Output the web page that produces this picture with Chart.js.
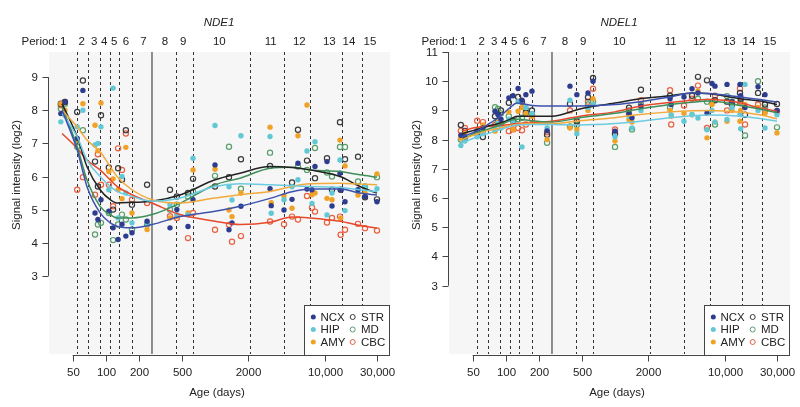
<!DOCTYPE html>
<html>
<head>
<meta charset="utf-8">
<script src="https://cdn.jsdelivr.net/npm/chart.js@4.4.1/dist/chart.umd.min.js"></script>
<style>
  html, body { margin: 0; padding: 0; background: #fff; }
  #wrap { width: 800px; height: 407px; display: flex; }
  .panel { width: 400px; height: 407px; }
</style>
</head>
<body>
<div id="wrap">
  <div class="panel"><canvas id="nde1" width="400" height="407"></canvas></div>
  <div class="panel"><canvas id="ndel1" width="400" height="407"></canvas></div>
</div>
<script>
'use strict';

// ─── Data ─────────────────────────────────────────────────────────────────────
// sample ages (post-conception days), shared by every region
const sampleAges = [39, 42.5, 55, 62, 80, 85, 90.7, 107, 117, 130, 141, 153, 174, 239,
  387, 447, 565, 628, 997, 1338, 1425, 1720, 3170, 3250, 4253, 5035, 5706, 6897, 7661,
  8161, 10504, 11666, 13800, 14000, 15340, 20166, 23350, 30050];

// NDE1 — signal per region, one value per sample (null = no sample)
const nde1NCX = [7.9, 8.25, 7.15, 8.6, 4.9, 4.7, 5.3, 4.95, 4.45, 4.1, 4.56, 4.2, 4.3, 4.65,
  4.45, 5.0, 4.49, 5.3, 6.35, 4.39, 4.6, 5.1, 5.63, 5.12, 4.99, 5.31, 6.4, 5.62, 5.6,
  6.3, 6.45, 5.11, 6.1, 5.6, 5.24, 5.6, 5.4, 5.24];
const nde1HIP = [7.65, 7.85, 7.5, 8.0, 6.95, 7.0, 7.5, 5.6, 8.67, 4.75, 6.0, 5.5, 4.6, 4.6,
  5.15, 4.85, 4.84, 6.55, 7.54, 5.69, 5.29, 7.23, 7.21, 4.89, 5.3, 5.69, 5.9, 6.77, 5.19,
  7.05, 4.84, 5.5, 6.5, null, 4.97, 5.6, 5.7, 5.63];
const nde1AMY = [8.2, 8.0, 7.1, 8.2, 7.55, 6.78, 8.22, 6.15, 5.93, 5.6, 5.33, 6.88, 4.9, 4.4,
  4.75, 4.8, 4.9, 6.2, 6.22, 4.99, 4.79, 5.5, 7.49, 5.21, 5.41, 5.04, 7.23, 8.16, 5.45,
  5.5, 5.34, 5.3, 7.1, 4.74, 6.32, 5.44, 5.5, 6.08];
const nde1STR = [8.2, 8.25, 7.95, 8.9, 6.45, 5.7, 7.85, 6.27, 5.0, 6.25, 5.9, 7.4, 5.15, 5.75,
  5.6, 5.4, 5.5, 5.93, 5.7, 5.98, null, 6.52, 6.32, null, null, 5.82, 7.41, 6.48, null,
  5.95, 6.55, 5.6, 7.64, 5.6, 6.52, 6.6, 5.37, 5.31];
const nde1MD = [8.05, 8.2, 6.9, 7.4, 4.25, 4.55, 4.6, 4.9, 4.08, 4.55, 4.85, 4.7, 4.4, 4.55,
  5.0, 5.15, 5.4, 5.55, 6.02, 6.9, null, 5.63, 6.72, null, null, null, 6.3, 6.2, null,
  6.86, 6.12, 6.0, 6.89, null, 6.89, 5.85, 5.7, 5.98];
const nde1CBC = [8.15, 8.25, 5.6, 5.98, 5.45, 6.67, 5.75, 5.75, 5.1, 6.85, 6.2, 7.3, 5.3, 5.2,
  4.8, 4.75, 4.14, 4.9, 4.39, 4.54, 4.03, 4.2, 4.64, null, 4.56, 4.79, 4.7, 5.41, 5.06,
  4.94, 4.61, 4.75, 4.79, 4.24, 4.39, 4.57, 4.44, 4.37];

// NDEL1
const ndel1NCX = [8.15, 8.1, 8.3, 8.4, 8.97, 8.86, 8.7, 9.43, 9.5, 9.75, 9.35, 9.54, 9.66, 8.3,
  9.83, 9.54, 9.6, 10.0, 8.29, 8.89, 8.75, 9.15, 9.4, 9.2, 9.46, 9.74, 9.6, 8.91, 9.92,
  9.83, 9.89, 9.3, 9.89, 9.5, 9.1, 9.81, 9.54, 9.0];
const ndel1HIP = [7.8, 7.95, 8.1, 8.2, 8.35, 8.55, 8.4, 8.7, 8.6, 9.3, 7.75, 9.1, 8.9, 8.4,
  9.35, 8.2, 9.1, 9.2, 8.1, 8.8, 8.4, 9.0, 9.2, 8.85, 8.63, 8.86, 8.74, 8.34, 9.0,
  8.6, 8.69, 9.1, 8.86, 8.37, 9.89, 9.0, 8.4, 8.85];
const ndel1AMY = [8.05, 8.2, 8.35, 8.5, 8.29, 8.6, 8.5, 8.95, 8.35, 8.97, 9.1, 8.9, 8.8, 8.0,
  8.4, 8.34, 9.0, 9.4, 7.95, 8.69, 8.6, 9.1, 9.0, 8.8, 8.9, 8.85, 9.66, 8.06, 9.2,
  8.6, 8.63, 9.0, 8.63, 9.0, 9.2, 9.1, 8.9, 8.23];
const ndel1STR = [8.5, 8.3, 8.25, 8.09, 8.8, 8.63, 9.0, 9.26, 8.65, 9.46, 9.3, 8.92, 9.0, 8.17,
  9.22, 8.63, 9.45, 10.11, 8.2, 9.09, null, 9.71, 9.5, null, null, 9.5, 10.15, 10.03, null,
  9.35, 9.3, 9.2, 9.6, 9.4, 8.85, 9.6, 9.2, 9.22];
const ndel1MD = [8.0, 8.05, 8.2, 8.3, 9.11, 9.05, 8.9, 8.8, 8.63, 8.7, 8.75, 9.05, 8.85, 7.89,
  8.45, 8.5, 9.2, 9.3, 7.75, 9.0, 8.35, 9.2, 9.1, null, null, null, 9.4, 9.3, null,
  8.52, 9.49, 9.3, 9.25, null, 8.14, 10.0, 9.1, 8.42];
const ndel1CBC = [8.3, 8.4, 8.65, 8.6, 8.5, 8.45, 8.55, 8.29, 8.35, 8.4, 8.32, 8.52, 8.7, 8.25,
  9.0, 8.6, 9.3, 9.74, 8.35, 8.9, null, 9.35, 9.69, 8.52, 9.17, 9.4, 9.85, 8.4, 9.3,
  9.5, 9.0, 9.2, 9.75, 9.3, 8.52, 9.2, 9.0, 8.97];

// smoothed trend curves, sampled at these ages
const curveAges = [40, 55, 67.5, 89, 110, 127, 174, 265, 477, 997, 1686, 3170, 5035, 7345,
  13800, 21025, 30050];

const nde1FitNCX = [8.0, 6.8, 5.7, 4.9, 4.6, 4.5, 4.45, 4.55, 4.79, 4.95, 5.1, 5.34, 5.54, 5.62, 5.62, 5.5, 5.44];
const nde1FitHIP = [7.9, 7.2, 6.5, 6.0, 5.7, 5.55, 5.4, 5.25, 5.35, 5.7, 5.78, 5.75, 5.72, 5.7, 5.67, 5.6, 5.54];
const nde1FitAMY = [8.0, 7.5, 7.1, 6.75, 6.3, 6.0, 5.6, 5.3, 5.2, 5.35, 5.45, 5.55, 5.7, 5.78, 5.8, 5.77, 5.75];
const nde1FitSTR = [8.2, 7.2, 6.3, 5.6, 5.3, 5.2, 5.22, 5.25, 5.44, 5.9, 6.1, 6.3, 6.27, 6.2, 6.0, 5.7, 5.5];
const nde1FitMD  = [8.1, 6.9, 5.9, 5.1, 4.85, 4.75, 4.75, 4.85, 5.19, 5.75, 5.95, 6.25, 6.28, 6.2, 6.15, 6.05, 5.98];
const nde1FitCBC = [7.3, 6.85, 6.5, 6.2, 5.9, 5.7, 5.45, 5.2, 4.85, 4.65, 4.55, 4.62, 4.78, 4.75, 4.65, 4.52, 4.44];

const ndel1FitNCX = [8.1, 8.3, 8.5, 8.8, 9.1, 9.25, 9.17, 9.15, 9.15, 9.2, 9.3, 9.46, 9.6, 9.58, 9.46, 9.37, 9.28];
const ndel1FitHIP = [7.88, 8.1, 8.2, 8.35, 8.45, 8.5, 8.52, 8.52, 8.5, 8.55, 8.63, 8.75, 8.82, 8.84, 8.8, 8.72, 8.63];
const ndel1FitAMY = [8.0, 8.2, 8.3, 8.4, 8.48, 8.52, 8.55, 8.55, 8.65, 8.75, 8.86, 8.95, 8.99, 9.0, 8.94, 8.85, 8.71];
const ndel1FitSTR = [8.2, 8.35, 8.45, 8.57, 8.7, 8.8, 8.8, 8.8, 9.05, 9.25, 9.4, 9.5, 9.6, 9.57, 9.4, 9.32, 9.2];
const ndel1FitMD  = [8.0, 8.25, 8.35, 8.5, 8.65, 8.7, 8.65, 8.6, 8.75, 8.9, 9.05, 9.2, 9.28, 9.32, 9.17, 9.05, 8.92];
const ndel1FitCBC = [8.3, 8.42, 8.45, 8.48, 8.52, 8.55, 8.58, 8.63, 8.8, 8.95, 9.14, 9.27, 9.35, 9.37, 9.26, 9.08, 8.97];

// period boundaries (days), birth marked by the solid line
const periodBounds = [54.4, 68.5, 88.8, 109.5, 131.5, 174, 441, 623, 2080, 4276, 7295, 14487, 21925];
const birthDay     = 265;
const periodLabels = ['1', '2', '3', '4', '5', '6', '7', '8', '9', '10', '11', '12', '13', '14', '15'];
const periodLabelDays = [41, 60.4, 78.7, 97, 120, 153, 221, 348, 512, 1091, 3214, 5864, 11020, 16670, 25950];

const xTicks      = [50, 100, 200, 500, 2000, 10000, 30000];
const xTickLabels = ['50', '100', '200', '500', '2000', '10,000', '30,000'];

// ─── Styles ───────────────────────────────────────────────────────────────────
const FONT   = '"Liberation Sans", Arial, Helvetica, sans-serif';
const TXT    = '#222';
const AXIS   = '#444';

const REGIONS = [
  { name: 'NCX', color: '#2d3c8e', line: '#3d52ad', open: false },
  { name: 'HIP', color: '#62c8d6', line: '#6ccbe0', open: false },
  { name: 'AMY', color: '#f0a227', line: '#f2aa3c', open: false },
  { name: 'STR', color: '#3a3a3a', line: '#222222', open: true  },
  { name: 'MD',  color: '#5a9e6c', line: '#3f8f5a', open: true  },
  { name: 'CBC', color: '#e8603f', line: '#e8482c', open: true  },
];

// ─── Helpers ──────────────────────────────────────────────────────────────────
function pairs(xs, ys) {
  return xs.map((x, i) => ({ x, y: ys[i] })).filter((p) => p.y !== null);
}

function buildDatasets(values, fits) {
  const sets = [];
  REGIONS.forEach((r, i) => {
    sets.push({
      label:           r.name + ' fit',
      data:            pairs(curveAges, fits[i]),
      showLine:        true,
      borderColor:     r.line,
      borderWidth:     1.5,
      pointRadius:     0,
      tension:         0.4,
      cubicInterpolationMode: 'monotone',
      order:           0,
    });
    sets.push({
      label:           r.name,
      data:            pairs(sampleAges, values[i]),
      showLine:        false,
      pointRadius:     r.open ? 2.6 : 2.7,
      pointBorderWidth: r.open ? 1.2 : 0,
      pointBackgroundColor: r.open ? 'rgba(0,0,0,0)' : r.color,
      pointBorderColor: r.color,
      order:           1,
    });
  });
  return sets;
}

// ─── Decoration plugin (background, period lines, R-style axes, legend) ───────
const decor = {
  id: 'decor',
  beforeDatasetsDraw(chart, args, o) {
    const { ctx, chartArea: a } = chart;
    const xs = chart.scales.x;
    ctx.save();
    ctx.fillStyle = '#f6f6f6';
    ctx.fillRect(a.left, a.top, a.width, a.height);

    ctx.strokeStyle = '#333';
    ctx.lineWidth   = 1;
    ctx.setLineDash([3, 3]);
    periodBounds.forEach((d) => {
      const x = Math.round(xs.getPixelForValue(d)) + 0.5;
      ctx.beginPath(); ctx.moveTo(x, a.top); ctx.lineTo(x, a.bottom); ctx.stroke();
    });
    ctx.setLineDash([]);
    ctx.strokeStyle = '#6a6a6a';
    ctx.lineWidth   = 1.5;
    const bx = xs.getPixelForValue(birthDay);
    ctx.beginPath(); ctx.moveTo(bx, a.top); ctx.lineTo(bx, a.bottom); ctx.stroke();
    ctx.restore();
  },
  afterDraw(chart, args, o) {
    const { ctx, chartArea: a } = chart;
    const xs = chart.scales.x;
    const ys = chart.scales.y;
    ctx.save();
    ctx.fillStyle   = TXT;
    ctx.strokeStyle = AXIS;
    ctx.lineWidth   = 1;
    ctx.font = '11.5px ' + FONT;

    // x axis
    const ay = a.bottom + 1.5;
    const x0 = xs.getPixelForValue(xTicks[0]);
    const x1 = xs.getPixelForValue(xTicks[xTicks.length - 1]);
    ctx.beginPath(); ctx.moveTo(x0, ay); ctx.lineTo(x1, ay); ctx.stroke();
    ctx.textAlign = 'center';
    ctx.textBaseline = 'middle';
    xTicks.forEach((t, i) => {
      const x = Math.round(xs.getPixelForValue(t)) + 0.5;
      ctx.beginPath(); ctx.moveTo(x, ay); ctx.lineTo(x, ay + 6); ctx.stroke();
      ctx.fillText(xTickLabels[i], x, 373);
    });
    ctx.fillText('Age (days)', 217, 393);

    // y axis
    const axx = a.left - 0.5;
    const yT = o.yTicks;
    ctx.beginPath();
    ctx.moveTo(axx, ys.getPixelForValue(yT[0]));
    ctx.lineTo(axx, ys.getPixelForValue(yT[yT.length - 1]));
    ctx.stroke();
    ctx.textAlign = 'right';
    yT.forEach((t) => {
      const y = Math.round(ys.getPixelForValue(t)) + 0.5;
      ctx.beginPath(); ctx.moveTo(axx - 6, y); ctx.lineTo(axx, y); ctx.stroke();
      ctx.fillText(String(t), 38, y);
    });
    ctx.save();
    ctx.translate(17, 175);
    ctx.rotate(-Math.PI / 2);
    ctx.textAlign = 'center';
    ctx.fillText('Signal intensity (log2)', 0, 0);
    ctx.restore();

    // title + period row
    ctx.textAlign = 'center';
    ctx.font = 'italic 11.5px ' + FONT;
    ctx.fillText(o.title, 219, 23);
    ctx.font = '11.5px ' + FONT;
    ctx.textAlign = 'left';
    ctx.fillText('Period:', 21.5, 42);
    ctx.textAlign = 'center';
    periodLabels.forEach((p, i) => ctx.fillText(p, xs.getPixelForValue(periodLabelDays[i]), 42));

    // legend box
    const lx = 304.5, ly = 305.5, lw = 85, lh = 50;
    ctx.fillStyle = '#fff';
    ctx.fillRect(lx, ly, lw, lh);
    ctx.strokeStyle = AXIS;
    ctx.strokeRect(lx, ly, lw, lh);
    ctx.textAlign = 'left';
    REGIONS.forEach((r, i) => {
      const col = Math.floor(i / 3);
      const row = i % 3;
      const mx = col ? 352.7 : 313.3;
      const my = 317 + row * 12.5;
      ctx.beginPath();
      ctx.arc(mx, my, 2.5, 0, Math.PI * 2);
      if (r.open) {
        ctx.strokeStyle = r.color; ctx.lineWidth = 1; ctx.stroke();
      } else {
        ctx.fillStyle = r.color; ctx.fill();
      }
      ctx.fillStyle = TXT;
      ctx.fillText(r.name, col ? 361 : 320.5, my + 0.5);
    });
    ctx.restore();
  },
};

function makeChart(id, title, yMin, yMax, yTicks, values, fits) {
  return new Chart(document.getElementById(id).getContext('2d'), {
    type: 'scatter',
    data: { datasets: buildDatasets(values, fits) },
    options: {
      responsive: false,
      animation:  false,
      layout: { padding: { left: 49, right: 10, top: 52, bottom: 53 } },
      plugins: {
        legend:  { display: false },
        tooltip: { enabled: false },
        decor:   { title, yTicks },
      },
      scales: {
        x: { type: 'logarithmic', min: 30.4, max: 39500, display: false },
        y: { type: 'linear', min: yMin, max: yMax, display: false },
      },
    },
    plugins: [decor],
  });
}

// ─── Boot ─────────────────────────────────────────────────────────────────────
makeChart('nde1', 'NDE1', 0.64, 9.76, [3, 4, 5, 6, 7, 8, 9],
  [nde1NCX, nde1HIP, nde1AMY, nde1STR, nde1MD, nde1CBC],
  [nde1FitNCX, nde1FitHIP, nde1FitAMY, nde1FitSTR, nde1FitMD, nde1FitCBC]);

makeChart('ndel1', 'NDEL1', 0.66, 11.0, [3, 4, 5, 6, 7, 8, 9, 10, 11],
  [ndel1NCX, ndel1HIP, ndel1AMY, ndel1STR, ndel1MD, ndel1CBC],
  [ndel1FitNCX, ndel1FitHIP, ndel1FitAMY, ndel1FitSTR, ndel1FitMD, ndel1FitCBC]);
</script>
</body>
</html>
